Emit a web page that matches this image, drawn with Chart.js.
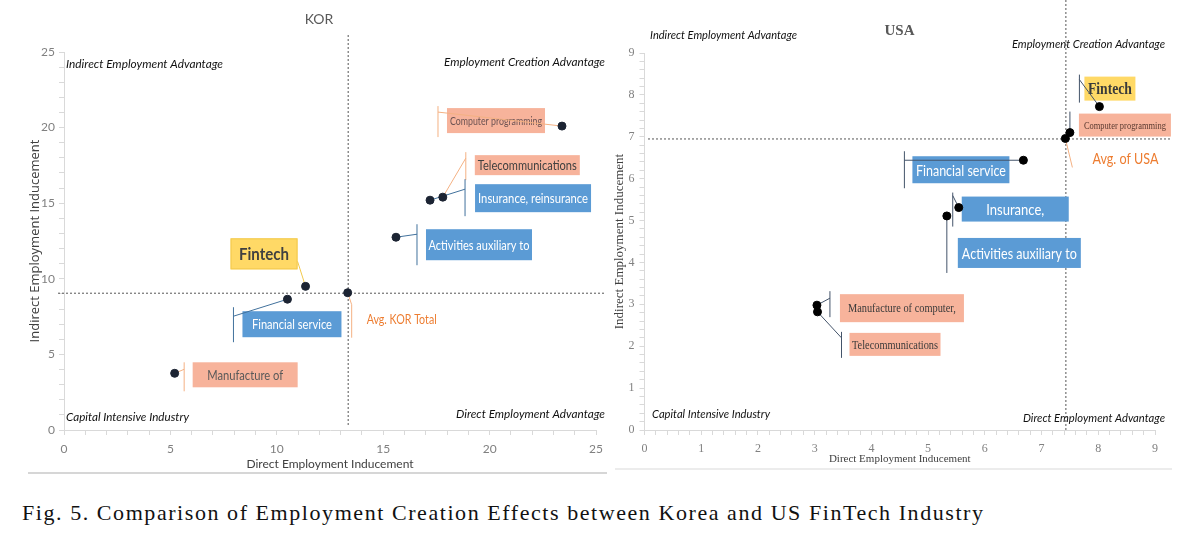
<!DOCTYPE html>
<html>
<head>
<meta charset="utf-8">
<script src="https://cdn.jsdelivr.net/npm/chart.js@4.4.1/dist/chart.umd.min.js"></script>
<style>
  html, body { margin: 0; padding: 0; background: #fff; }
  body { width: 1190px; height: 538px; position: relative; overflow: hidden; }
  #korChart { position: absolute; left: 0; top: 0; }
  #usaChart { position: absolute; left: 612px; top: 0; }
  #caption { position: absolute; left: 22px; top: 500px; font-family: 'Liberation Serif', serif; font-size: 22px; color: #111; white-space: nowrap; }
</style>
</head>
<body>
<canvas id="korChart" width="610" height="475"></canvas>
<canvas id="usaChart" width="578" height="470"></canvas>
<div id="caption">Fig. 5. Comparison of Employment Creation Effects between Korea and US FinTech Industry</div>
<script>
// KOR values
const korCategories = ['Computer programming', 'Telecommunications', 'Insurance, reinsurance', 'Activities auxiliary to', 'Fintech', 'Financial service', 'Manufacture of'];
const korDirect = [23.4, 17.8, 17.2, 15.6, 11.35, 10.5, 5.2];
const korIndirect = [20.1, 15.4, 15.2, 12.75, 9.5, 8.65, 3.75];
const korAverage = [13.33, 9.08];
const korTicks = [0, 5, 10, 15, 20, 25];

// USA values
const usaCategories = ['Fintech', 'Computer programming', 'Financial service', 'Insurance,', 'Activities auxiliary to', 'Manufacture of computer,', 'Telecommunications'];
const usaDirect = [8.02, 7.5, 6.68, 5.54, 5.33, 3.04, 3.05];
const usaIndirect = [7.72, 7.1, 6.44, 5.31, 5.11, 2.98, 2.82];
const usaAverage = [7.42, 6.96];
const usaTicks = [0, 1, 2, 3, 4, 5, 6, 7, 8, 9];

const SALMON = '#f7b39b';
const BLUE = '#5b9bd5';
const YELLOW = '#ffd966';

// callout boxes, offsets in px from the point they belong to
const korCallouts = [
  { box: [-115, -18, 98, 25], fill: SALMON, color: '#6b5252', font: '11px Lato', textW: 92, bar: [-124, -20, 11], joint: -14, line: '#f4b183' },
  { box: [32, -42, 105, 20], fill: SALMON, color: '#404040', font: '13px Lato', textW: 99, bar: [23, -45, -17], joint: -39, line: '#f4b183' },
  { box: [45, -16, 116, 28], fill: BLUE, color: '#fff', font: '13px Lato', textW: 110, bar: [35, -21, 16], joint: -11, line: '#41719c' },
  { box: [30, -8, 106, 31], fill: BLUE, color: '#fff', font: '13px Lato', textW: 101, bar: [21, -13, 28], joint: -3, line: '#41719c' },
  { box: [-75, -48, 67, 31], fill: YELLOW, stroke: '#f2c94c', color: '#404040', font: 'bold 17px Lato', textW: 50, from: [-8, -25], line: '#f2c94c' },
  { box: [-45, 12, 99, 26], fill: BLUE, color: '#fff', font: '13px Lato', textW: 80, bar: [-54, 8, 43], joint: 17, line: '#41719c' },
  { box: [18, -11, 105, 25], fill: SALMON, color: '#595959', font: '13px Lato', textW: 76, bar: [9.5, -11, 18], joint: -4, line: '#f4b183' }
];
const korAvgCallout = { text: 'Avg. KOR Total', at: [19, 27], color: '#ed7d31', font: '13px Lato', textW: 70, bar: [4, 12, 45], joint: 12, line: '#f4b183' };

const usaCallouts = [
  { box: [-15, -30, 51, 24], fill: YELLOW, color: '#3a3a3a', font: 'bold 17px "Liberation Serif"', textW: 44, bar: [-20, -32, -4], joint: -27, line: '#44546a' },
  { box: [9, -19, 92, 23], fill: SALMON, color: '#5a3a30', font: '10px "Liberation Serif"', textW: 82, bar: [0, -21, 0], joint: 0, line: '#44546a' },
  { box: [-111, -4, 97, 27], fill: BLUE, color: '#fff', font: '15px Lato', textW: 90, bar: [-119, -9, 28], joint: 0, line: '#44546a' },
  { box: [3, -11, 107, 25], fill: BLUE, color: '#fff', font: '15px Lato', textW: 58, bar: [-6, -15, 19], joint: -12, line: '#44546a' },
  { box: [11, 22, 123, 30], fill: BLUE, color: '#fff', font: '16px Lato', textW: 115, bar: [0, 0, 57], joint: 0, line: '#44546a' },
  { box: [23, -11, 124, 28], fill: SALMON, color: '#3a3a3a', font: '12px "Liberation Serif"', textW: 108, bar: [13, -14, 12], joint: -7, line: '#44546a' },
  { box: [32, 21, 91, 23], fill: SALMON, color: '#3a3a3a', font: '12px "Liberation Serif"', textW: 86, bar: [24, 20, 46], joint: 26, line: '#44546a' }
];
const usaAvgCallout = { text: 'Avg. of USA', at: [27, 21], color: '#ed7d31', font: '15px Lato', textW: 66, from: [7, 29], line: '#f4b183' };

function drawLeader(ctx, px, py, c) {
  ctx.strokeStyle = c.line;
  ctx.lineWidth = 1;
  ctx.setLineDash([]);
  ctx.beginPath();
  if (c.bar) {
    ctx.moveTo(px + c.bar[0], py + c.bar[1]);
    ctx.lineTo(px + c.bar[0], py + c.bar[2]);
    ctx.moveTo(px + c.bar[0], py + c.joint);
  } else {
    ctx.moveTo(px + c.from[0], py + c.from[1]);
  }
  ctx.lineTo(px, py);
  ctx.stroke();
}

// draws avg lines, callouts, quadrant captions and panel title
function makeDecorations(cfg) {
  return {
    id: 'decorations',
    beforeDatasetsDraw(chart) {
      const { ctx, scales: { x, y } } = chart;
      const ax = x.getPixelForValue(cfg.average[0]);
      const ay = y.getPixelForValue(cfg.average[1]);
      ctx.save();
      ctx.lineWidth = 1;
      ctx.setLineDash([2, 2]);
      ctx.strokeStyle = cfg.avgColor;
      ctx.beginPath();
      ctx.moveTo(ax + 0.5, cfg.vLine[0]);
      ctx.lineTo(ax + 0.5, cfg.vLine[1]);
      ctx.moveTo(cfg.hLine[0], ay + 0.5);
      ctx.lineTo(cfg.hLine[1], ay + 0.5);
      ctx.stroke();

      const pts = chart.getDatasetMeta(0).data;
      cfg.callouts.forEach((c, i) => {
        const px = pts[i].x, py = pts[i].y;
        const [dx, dy, w, h] = c.box;
        ctx.setLineDash([]);
        ctx.fillStyle = c.fill;
        ctx.fillRect(px + dx, py + dy, w, h);
        if (c.stroke) {
          ctx.strokeStyle = c.stroke;
          ctx.strokeRect(px + dx + 0.5, py + dy + 0.5, w - 1, h - 1);
        }
        ctx.fillStyle = c.color;
        ctx.font = c.font;
        ctx.textAlign = 'center';
        ctx.textBaseline = 'middle';
        ctx.fillText(cfg.labels[i], px + dx + w / 2, py + dy + h / 2 + 1, c.textW);
        drawLeader(ctx, px, py, c);
      });

      const a = cfg.avgCallout;
      const avgPt = chart.getDatasetMeta(1).data[0];
      drawLeader(ctx, avgPt.x, avgPt.y, a);
      ctx.fillStyle = a.color;
      ctx.font = a.font;
      ctx.textAlign = 'left';
      ctx.textBaseline = 'middle';
      ctx.fillText(a.text, avgPt.x + a.at[0], avgPt.y + a.at[1], a.textW);
      ctx.restore();
    },
    afterDraw(chart) {
      const ctx = chart.ctx;
      ctx.save();
      ctx.textBaseline = 'middle';
      cfg.quadrants.forEach(q => {
        ctx.font = cfg.quadFont;
        ctx.fillStyle = '#111';
        ctx.textAlign = q.align;
        ctx.fillText(q.text, q.x, q.y, q.w);
      });
      ctx.font = cfg.titleFont;
      ctx.fillStyle = '#595959';
      ctx.textAlign = 'center';
      ctx.fillText(cfg.title, cfg.titleAt[0], cfg.titleAt[1]);
      // thin grey strip under the panel
      ctx.strokeStyle = cfg.strip.color;
      ctx.lineWidth = 2;
      ctx.beginPath();
      ctx.moveTo(cfg.strip.x0, cfg.strip.y);
      ctx.lineTo(cfg.strip.x1, cfg.strip.y);
      ctx.stroke();
      ctx.restore();
    }
  };
}

function axis(o) {
  return {
    type: 'linear',
    min: 0,
    max: o.max,
    afterFit: o.fit,
    grid: { drawOnChartArea: false, tickLength: 5, color: '#d9d9d9' },
    border: { color: '#d9d9d9' },
    ticks: {
      stepSize: o.step,
      autoSkip: false,
      maxRotation: 0,
      padding: o.pad,
      color: '#808080',
      font: o.tickFont,
      callback: v => {
        const r = Math.round(v);
        return Math.abs(v - r) < 1e-6 && o.labels.includes(r) ? String(r) : '';
      }
    },
    title: { display: true, text: o.title, color: '#404040', font: o.titleFont, padding: o.titlePad }
  };
}

function createPanel(id, cfg) {
  const points = cfg.labels.map((c, i) => ({ x: cfg.direct[i], y: cfg.indirect[i] }));
  return new Chart(document.getElementById(id), {
    type: 'scatter',
    data: {
      datasets: [
        { data: points, pointRadius: 4, backgroundColor: cfg.dot, borderColor: cfg.dot },
        { data: [{ x: cfg.average[0], y: cfg.average[1] }], pointRadius: 4, backgroundColor: cfg.dot, borderColor: cfg.dot }
      ]
    },
    options: {
      responsive: false,
      animation: false,
      layout: { padding: cfg.padding },
      plugins: { legend: { display: false }, tooltip: { enabled: false } },
      scales: {
        x: axis(cfg.xAxis),
        y: axis(cfg.yAxis)
      }
    },
    plugins: [makeDecorations(cfg)]
  });
}

createPanel('korChart', {
  labels: korCategories, direct: korDirect, indirect: korIndirect, average: korAverage,
  callouts: korCallouts, avgCallout: korAvgCallout, dot: '#1c2433',
  padding: { left: 24, top: 52, right: 13, bottom: 0 },
  avgColor: '#555', vLine: [35, 425], hLine: [58, 605],
  title: 'KOR', titleAt: [319, 19], titleFont: '14px Lato',
  quadFont: 'italic 12px Lato',
  quadrants: [
    { text: 'Indirect Employment Advantage', x: 66, y: 64, align: 'left', w: 157 },
    { text: 'Employment Creation Advantage', x: 605, y: 62, align: 'right', w: 161 },
    { text: 'Capital Intensive Industry', x: 66, y: 417, align: 'left', w: 123 },
    { text: 'Direct Employment Advantage', x: 605, y: 414, align: 'right', w: 149 }
  ],
  strip: { x0: 28, x1: 607, y: 473, color: '#d6d6d6' },
  xAxis: { max: 25, step: 1, labels: korTicks, pad: 7, tickFont: { family: 'Lato', size: 12 },
           title: 'Direct Employment Inducement', titleFont: { family: 'Lato', size: 12 }, titlePad: { top: 0, bottom: 4 },
           fit: s => { s.height = 45; } },
  yAxis: { max: 25, step: 1, labels: korTicks, pad: 4, tickFont: { family: 'Lato', size: 12 },
           title: 'Indirect Employment Inducement', titleFont: { family: 'Open Sans', size: 13 }, titlePad: { top: 3, bottom: 0 },
           fit: s => { s.width = 40; } }
});

createPanel('usaChart', {
  labels: usaCategories, direct: usaDirect, indirect: usaIndirect, average: usaAverage,
  callouts: usaCallouts, avgCallout: usaAvgCallout, dot: '#000',
  padding: { left: 0, top: 53, right: 35, bottom: 0 },
  avgColor: '#555', vLine: [0, 432], hLine: [36, 558],
  title: 'USA', titleAt: [287.5, 31], titleFont: 'bold 15px "Liberation Serif"',
  quadFont: 'italic 12px Lato',
  quadrants: [
    { text: 'Indirect Employment Advantage', x: 38, y: 35, align: 'left', w: 147 },
    { text: 'Employment Creation Advantage', x: 553, y: 44, align: 'right', w: 153 },
    { text: 'Capital Intensive Industry', x: 40, y: 414, align: 'left', w: 118 },
    { text: 'Direct Employment Advantage', x: 553, y: 418, align: 'right', w: 142 }
  ],
  strip: { x0: 3, x1: 560, y: 469, color: '#ececec' },
  xAxis: { max: 9, step: 0.2, labels: usaTicks, pad: 7, tickFont: { family: 'Liberation Serif', size: 12 },
           title: 'Direct Employment Inducement', titleFont: { family: 'Liberation Serif', size: 11 }, titlePad: { top: 0, bottom: 4 },
           fit: s => { s.height = 40; } },
  yAxis: { max: 9, step: 0.2, labels: usaTicks, pad: 5, tickFont: { family: 'Liberation Serif', size: 12 },
           title: 'Indirect Employment Inducement', titleFont: { family: 'Liberation Serif', size: 13 }, titlePad: { top: 0, bottom: 0 },
           fit: s => { s.width = 32.5; } }
});

// stretch the caption to the width it has in the figure
const caption = document.getElementById('caption');
const spare = 963 - caption.offsetWidth;
caption.style.letterSpacing = (spare / caption.textContent.length) + 'px';
</script>
</body>
</html>
